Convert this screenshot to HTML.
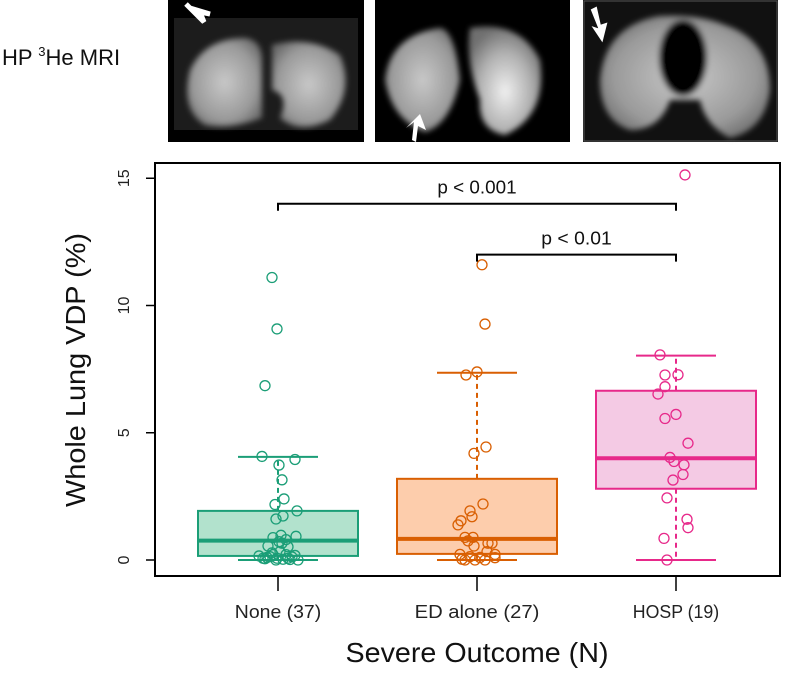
<!DOCTYPE html>
<html><head><meta charset="utf-8"><style>
html,body{margin:0;padding:0;background:#fff;}
body{width:800px;height:670px;overflow:hidden;font-family:"Liberation Sans",Arial,sans-serif;}
</style></head><body>
<svg id="fig" width="800" height="670" viewBox="0 0 800 670" xmlns="http://www.w3.org/2000/svg">
<defs>
<filter id="blur" x="-20%" y="-20%" width="140%" height="140%"><feGaussianBlur stdDeviation="3"/></filter>
<radialGradient id="lg" cx="50%" cy="50%" r="60%"><stop offset="0" stop-color="#c8c8c8"/><stop offset="0.7" stop-color="#9a9a9a"/><stop offset="1" stop-color="#6a6a6a"/></radialGradient>
<radialGradient id="lgb" cx="50%" cy="60%" r="60%"><stop offset="0" stop-color="#f0f0f0"/><stop offset="0.6" stop-color="#b0b0b0"/><stop offset="1" stop-color="#707070"/></radialGradient>
</defs>
<text x="2" y="65" font-size="22" fill="#111">HP <tspan font-size="13" dy="-9">3</tspan><tspan dy="9">He MRI</tspan></text>

<g>
<rect x="168" y="0" width="196" height="142" fill="#000"/>
<rect x="174" y="18" width="184" height="112" fill="#1c1c1c"/>
<g filter="url(#blur)">
<path d="M190,70 Q205,38 245,38 Q262,40 262,60 L262,118 Q230,130 205,125 Q180,110 190,70Z" fill="url(#lg)"/>
<path d="M272,45 Q310,35 340,55 Q355,90 330,120 Q300,135 280,118 Q290,95 272,90Z" fill="url(#lg)"/>
</g>
<path d="M190,8 L204,22 L200,12 L210,14 Z M186,4 L198,16" stroke="#fff" stroke-width="5" fill="#fff"/>
</g>
<g>
<rect x="375" y="0" width="195" height="142" fill="#000"/>
<g filter="url(#blur)">
<path d="M385,80 Q390,35 440,28 Q455,30 460,80 Q450,125 425,132 Q392,120 385,80Z" fill="url(#lg)"/>
<path d="M470,28 Q520,20 540,60 Q548,115 505,135 Q478,130 480,100 Q465,60 470,28Z" fill="url(#lgb)"/>
</g>
<path d="M412,140 L414,122 L406,128 L420,114 L426,130 L418,126 L416,142Z" fill="#fff"/>
</g>
<g>
<rect x="583" y="0" width="195" height="142" fill="#111"/>
<rect x="584" y="1" width="193" height="140" fill="none" stroke="#555"/>
<g filter="url(#blur)">
<path d="M600,80 Q605,25 660,16 Q700,14 725,25 Q770,40 770,90 Q765,130 730,138 Q705,125 700,100 L670,100 Q660,130 630,130 Q600,120 600,80Z" fill="url(#lg)"/>
<ellipse cx="683" cy="58" rx="24" ry="38" fill="#050505"/>
</g>
<path d="M592,10 L600,30 L594,28 L602,40 L606,24 L600,26 L596,8Z" fill="#fff" stroke="#fff" stroke-width="2"/>
</g>

<g id="chart"></g>
</svg>
<script>
const categories = ["None (37)", "ED alone (27)", "HOSP (19)"];
const boxQ1 = [0.16, 0.24, 2.8];
const boxMedian = [0.76, 0.83, 4.0];
const boxQ3 = [1.93, 3.19, 6.65];
const whiskerLow = [0, 0, 0];
const whiskerHigh = [4.05, 7.36, 8.03];
const yTicks = [0, 5, 10, 15];
const noneValues = [11.1,9.08,6.85,4.07,3.95,3.73,3.15,2.4,2.18,1.93,1.73,1.61,0.97,0.88,0.93,0.72,0.66,0.55,0.52,0.33,0.16,0.1,0.21,0.21,0.18,0.07,0.03,0,0,0.07,0.13,0.07,0.05,0.02,0.12,0.28,0.8];
const noneJitter = [-6,-1,-13,-16,17,1,4,6,-3,19,5,-2,3,-5,18,1,4,-10,10,2,-19,-11,-5,8,17,-1,5,20,-2,-15,-8,10,-13,12,14,-6,8];
const edValues = [11.6,9.27,7.39,7.27,4.44,4.19,2.2,1.93,1.7,1.54,1.38,0.89,0.89,0.75,0.55,0.66,0.66,0.33,0.22,0.22,0.03,0,0,0,0.09,0.13,0.1];
const edJitter = [5,8,0,-11,9,-3,6,-7,-5,-16,-19,-12,-4,-9,-3,11,15,10,-17,18,-15,-12,-2,8,18,-7,3];
const hospValues = [15.13,8.06,7.27,7.28,6.81,6.52,5.72,5.56,4.59,4.03,3.87,3.74,3.36,3.14,2.44,1.6,1.27,0.85,0];
const hospJitter = [9,-16,-11,2,-11,-18,0,-11,12,-6,-2,8,7,-3,-9,11,12,-12,-9];
const pointSets = [noneValues, edValues, hospValues];
const jitterSets = [noneJitter, edJitter, hospJitter];
const brackets = [{from:0,to:2,y:14.0,label:"p < 0.001"},{from:1,to:2,y:12.0,label:"p < 0.01"}];

const strokeCols = ["#1b9e77","#d95f02","#e7298a"];
const fillCols = ["#b2e2cd","#fdcdac","#f4cae4"];
const NS="http://www.w3.org/2000/svg";
const g=document.getElementById('chart');
const L=155,R=780,T=163,B=576;
const y=v=>560-v*25.45;
const x=i=>278+i*199;
function mk(tag,attrs,parent){const e=document.createElementNS(NS,tag);for(const k in attrs)e.setAttribute(k,attrs[k]);(parent||g).appendChild(e);return e;}

const frame=mk('rect',{x:L,y:T,width:R-L,height:B-T,fill:'none',stroke:'#000','stroke-width':2});



yTicks.forEach(t=>{
  const ln=mk('line',{x1:L-9,x2:L,y1:y(t),y2:y(t),stroke:'#000','stroke-width':1.5});
  
  
  const tx=mk('text',{x:0,y:0,'font-size':16,fill:'#222','text-anchor':'middle',transform:`translate(129,${y(t)}) rotate(-90)`});
  tx.textContent=t;
  
  
});
const yt=mk('text',{x:0,y:0,'font-size':28,fill:'#111','text-anchor':'middle',textLength:274,lengthAdjust:'spacingAndGlyphs',transform:'translate(85,370) rotate(-90)'});
yt.textContent='Whole Lung VDP (%)';


const xt=mk('text',{x:477,y:662,'font-size':28,fill:'#111','text-anchor':'middle',textLength:263,lengthAdjust:'spacingAndGlyphs'});
xt.textContent='Severe Outcome (N)';



categories.forEach((c,i)=>{
  const cx=x(i);
  const tk=mk('line',{x1:cx,x2:cx,y1:B,y2:B+15,stroke:'#000','stroke-width':1.5});
  
  
  const lb=mk('text',{x:cx,y:618,'font-size':18,fill:'#222','text-anchor':'middle',textLength:c.length*9.6,lengthAdjust:'spacingAndGlyphs'});
  lb.textContent=c;
  
  
  const grp=mk('g',{});
  
  
  const col=strokeCols[i];
  mk('line',{x1:cx,x2:cx,y1:y(boxQ3[i]),y2:y(whiskerHigh[i]),stroke:col,'stroke-width':2,'stroke-dasharray':'5,4'},grp);
  mk('line',{x1:cx,x2:cx,y1:y(boxQ1[i]),y2:y(whiskerLow[i]),stroke:col,'stroke-width':2,'stroke-dasharray':'5,4'},grp);
  mk('line',{x1:cx-40,x2:cx+40,y1:y(whiskerHigh[i]),y2:y(whiskerHigh[i]),stroke:col,'stroke-width':2},grp);
  mk('line',{x1:cx-40,x2:cx+40,y1:y(whiskerLow[i]),y2:y(whiskerLow[i]),stroke:col,'stroke-width':2},grp);
  mk('rect',{x:cx-80,y:y(boxQ3[i]),width:160,height:y(boxQ1[i])-y(boxQ3[i]),fill:fillCols[i],stroke:col,'stroke-width':2},grp);
  mk('line',{x1:cx-80,x2:cx+80,y1:y(boxMedian[i]),y2:y(boxMedian[i]),stroke:col,'stroke-width':4},grp);
  pointSets[i].forEach((v,k)=>{
    const p=mk('circle',{cx:cx+jitterSets[i][k],cy:y(v),r:5,fill:'none',stroke:col,'stroke-width':1.3});
    
    
  });
});

brackets.forEach(b=>{
  const yy=y(b.y), x1=x(b.from), x2=x(b.to);
  const pth=mk('path',{d:`M${x1},${yy+7}V${yy}H${x2}V${yy+7}`,fill:'none',stroke:'#000','stroke-width':2});
  
  
  const t=mk('text',{x:(x1+x2)/2,y:yy-10,'font-size':18,fill:'#111','text-anchor':'middle',textLength:b.label.length*8.8,lengthAdjust:'spacingAndGlyphs'});
  t.textContent=b.label;
  
  
});
</script>
</body></html>
